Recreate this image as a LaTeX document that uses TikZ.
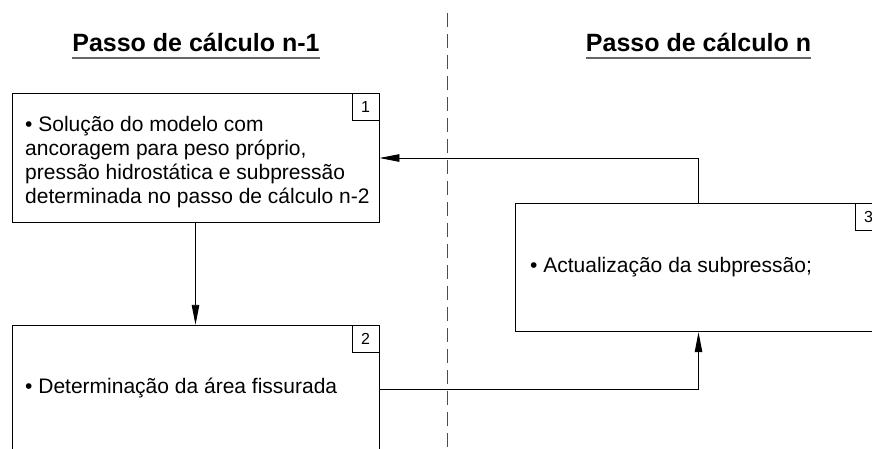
\documentclass[tikz,border=0pt]{standalone}
\usepackage{fontspec}
\setmainfont{Liberation Sans}
\usetikzlibrary{arrows.meta}
\begin{document}
\begin{tikzpicture}[x=1pt,y=-1pt,
  box/.style={draw=black, line width=0.9pt, minimum width=367pt, minimum height=128.5pt, inner sep=0pt},
  numbox/.style={draw=black, line width=0.9pt, minimum size=27pt, inner sep=0pt, font=\fontsize{16}{18}\selectfont},
  body/.style={inner sep=0pt, align=left, font=\fontsize{21}{23.8}\selectfont},
  ttl/.style={inner sep=0pt, font=\fontsize{25}{30}\selectfont\bfseries},
  arr/.style={line width=0.9pt, -{Triangle[length=20pt,width=7.5pt]}},
  ul/.style={line width=2pt, draw=black!60},
  divider/.style={line width=1pt, draw=black!70, dash pattern=on 14pt off 7pt}]
\useasboundingbox (0,0) rectangle (872,448);

% divider
\coordinate (dtop) at (447,13);
\coordinate (dbot) at (447,452);
\draw[divider] (dtop) -- (dbot);

% titles
\node[ttl, anchor=base] (t1) at (196,51) {Passo de cálculo n-1};
\node[ttl, anchor=base] (t2) at (698.5,51) {Passo de cálculo n};
\draw[ul] ([yshift=-7pt]t1.base west) -- ([yshift=-7pt]t1.base east);
\draw[ul] ([yshift=-7pt]t2.base west) -- ([yshift=-7pt]t2.base east);

% boxes
\node[box] (b1) at (195.5,158) {};
\node[box] (b2) at (195.5,389.5) {};
\node[box] (b3) at (698.5,267.5) {};

\node[numbox, anchor=north east] (n1) at (b1.north east) {1};
\node[numbox, anchor=north east] (n2) at (b2.north east) {2};
\node[numbox, anchor=north east] (n3) at (b3.north east) {3};

\node[body, anchor=north west] (d1) at (25,116.5) {• Solução do modelo com\\ancoragem para peso próprio,\\pressão hidrostática e subpressão\\determinada no passo de cálculo n-2};
\node[body, anchor=base west] (d2) at (25,393) {• Determinação da área fissurada};
\node[body, anchor=base west] (d3) at (530,272) {• Actualização da subpressão;};

% connectors
\draw[arr] (b1.south) -- (b2.north);
\draw[arr] (b2.east) -| (b3.south);
\draw[arr] (b3.north) |- (b1.east);
\end{tikzpicture}
\end{document}
